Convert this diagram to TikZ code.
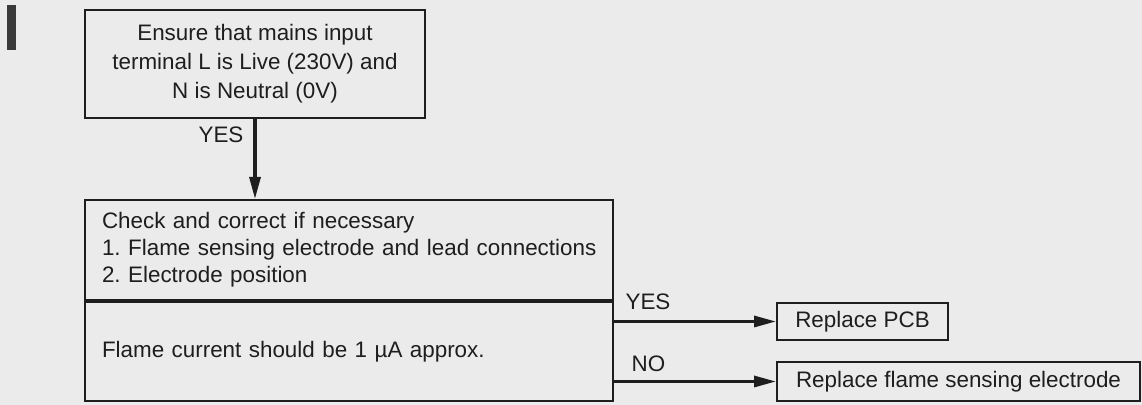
\documentclass[tikz,border=0pt]{standalone}
\usepackage{fontspec}
\setmainfont{Liberation Sans}
\usetikzlibrary{arrows.meta,positioning,calc}
\definecolor{PaperGrey}{HTML}{EBEBEB}
\definecolor{InkBlack}{HTML}{1E1E1E}
\definecolor{TabMark}{HTML}{3A3A3A}
\frenchspacing

\begin{document}
\begin{tikzpicture}[x=.5pt,y=.5pt,
    font=\fontsize{11.2}{14.5}\selectfont,
    box/.style={draw=InkBlack,line width=1pt,text=InkBlack,inner sep=0pt},
    textbox/.style={box,text width=247pt,inner xsep=8.5pt,align=left,
      font=\fontsize{11.2}{13.5}\selectfont},
    flow/.style={draw=InkBlack,line width=1.6pt,-{Triangle[length=11pt,width=5.5pt]}},
    lbl/.style={text=InkBlack,inner sep=0pt}]
  \fill[PaperGrey] (0,0) rectangle (1142,405);
  \useasboundingbox (0,0) rectangle (1142,405);
  \fill[TabMark] (7,355) rectangle (16,400);
  \node[box,minimum width=170pt,minimum height=54pt,align=center] (mains) at (255,341)
    {Ensure that mains input\\terminal L is Live (230V) and\\N is Neutral (0V)};
  \node[textbox,minimum height=50pt] (check) at (349,155)
    {Check and correct if necessary\\\mbox{1. Flame sensing electrode and lead connections}\\2. Electrode position};
  \node[textbox,minimum height=49.5pt,below=0pt of check] (flame)
    {Flame current should be 1 \textmu A approx.};
  \node[box,minimum width=85.5pt,minimum height=18.5pt] (pcb) at (862.5,83.5) {Replace PCB};
  \node[box,minimum width=181.5pt,minimum height=19.5pt] (electrode) at (958.5,23.5) {Replace flame sensing electrode};
  \draw[flow] (mains) -- node[lbl,pos=.2,left=5pt] {YES} (check.north -| mains);
  \draw[flow] (flame.east |- pcb.west) -- node[lbl,pos=0,anchor=south west,xshift=5pt,yshift=5pt] {YES} (pcb.west);
  \draw[flow] (flame.east |- electrode.west) -- node[lbl,pos=0,anchor=south west,xshift=8pt,yshift=4pt] {NO} (electrode.west);
\end{tikzpicture}
\end{document}
